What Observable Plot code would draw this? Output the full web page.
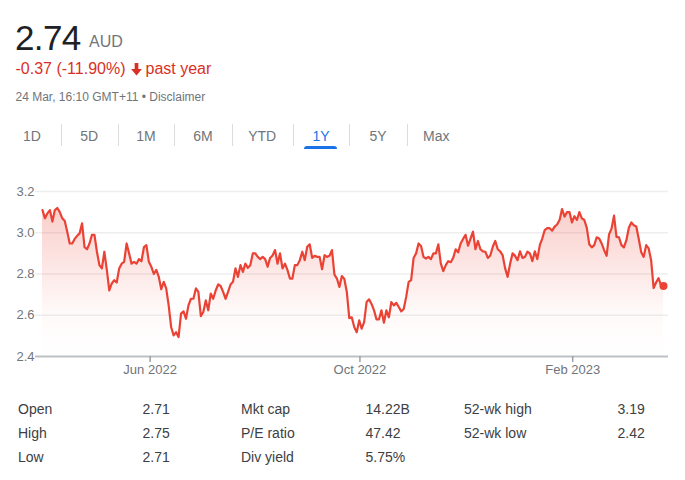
<!DOCTYPE html>
<html><head><meta charset="utf-8">
<script src="https://cdn.jsdelivr.net/npm/d3@7"></script>
<script src="https://cdn.jsdelivr.net/npm/@observablehq/plot@0.6"></script>
<style>
html,body{margin:0;padding:0;background:#fff}
body{width:685px;height:480px;overflow:hidden;position:relative;font-family:"Liberation Sans",Arial,sans-serif}
.abs{position:absolute;white-space:nowrap;line-height:1}
</style></head><body>
<script>
// ---------- data ----------
const price = "2.74";
const currency = "AUD";
const changeText = "-0.37 (-11.90%)";
const periodText = "past year";
const stampText = "24 Mar, 16:10 GMT+11 • Disclaimer";
const ranges = ["1D","5D","1M","6M","YTD","1Y","5Y","Max"];
const activeRange = "1Y";
const yTicks = [2.4, 2.6, 2.8, 3.0, 3.2];
const xTickLabels = ["Jun 2022","Oct 2022","Feb 2023"];
const xTickIndex = [43.5, 128.3, 214.3];
const closes = [
 3.11,3.07,3.094,3.11,3.054,3.11,3.12,3.10,3.07,3.057,
 3.005,2.948,2.948,2.97,2.985,2.997,3.046,2.93,2.92,2.948,2.99,
 2.99,2.908,2.843,2.827,2.908,2.82,2.72,2.754,2.77,2.759,
 2.827,2.85,2.859,2.948,2.90,2.85,2.859,2.85,2.872,2.862,
 2.93,2.94,
 2.859,2.835,2.80,2.82,2.786,2.726,2.762,2.73,2.648,2.543,
 2.502,2.518,2.494,2.608,2.619,2.583,2.648,2.68,2.68,2.73,
 2.713,2.596,2.616,2.672,2.624,2.705,2.68,2.72,2.75,2.742,
 2.713,2.68,2.713,2.749,2.762,2.827,2.786,2.843,2.81,2.85,
 2.83,2.843,2.90,
 2.90,2.883,2.872,2.883,2.872,2.835,2.878,2.89,2.916,2.85,
 2.90,2.827,2.85,2.82,2.778,2.778,2.843,2.843,2.867,2.908,
 2.867,2.932,2.944,2.878,2.888,2.883,2.883,2.823,2.891,2.883,
 2.888,2.916,2.797,2.778,2.737,2.79,2.776,2.713,2.586,2.59,
 2.543,2.518,2.575,2.535,2.567,2.664,2.677,2.655,2.624,2.58,
 2.58,2.624,2.564,2.624,2.59,2.664,2.648,2.66,2.64,2.619,
 2.63,2.689,2.762,2.77,2.878,2.90,2.948,2.936,2.883,2.875,
 2.883,2.872,2.90,2.90,2.944,2.85,2.814,2.843,2.862,2.857,
 2.878,2.92,2.905,2.948,2.97,2.99,2.937,2.972,3.005,
 2.92,2.96,2.92,2.91,2.908,2.878,2.89,2.932,2.96,2.92,
 2.91,2.89,2.827,2.786,2.85,2.90,2.888,2.867,2.91,2.878,
 2.883,2.908,2.90,2.862,2.91,2.872,2.94,2.972,3.013,3.022,
 3.022,3.01,3.03,3.04,3.062,3.115,3.078,3.10,3.10,3.05,
 3.08,3.062,3.10,3.07,
 3.062,3.024,2.944,2.929,2.94,2.978,2.972,2.948,2.916,2.888,
 2.992,3.02,3.083,2.98,2.978,2.94,2.929,2.964,3.024,3.05,
 3.036,3.03,2.97,2.905,2.883,2.94,2.924,2.867,2.732,2.759,
 2.78,2.745,2.742
];
const statLabelsA = ["Open","High","Low"];
const statValuesA = ["2.71","2.75","2.71"];
const statLabelsB = ["Mkt cap","P/E ratio","Div yield"];
const statValuesB = ["14.22B","47.42","5.75%"];
const statLabelsC = ["52-wk high","52-wk low"];
const statValuesC = ["3.19","2.42"];

// ---------- helpers ----------
const RED = "#ea4335", TXTRED = "#d93025", GREY = "#70757a", BLUE = "#1a73e8";
function put(text, left, baseline, size, color, extra = {}) {
  const el = document.createElement("div");
  el.className = "abs";
  el.textContent = text;
  el.style.left = left + "px";
  el.style.top = (baseline - 0.8465 * size) + "px";
  el.style.fontSize = size + "px";
  el.style.color = color;
  Object.assign(el.style, extra);
  document.body.appendChild(el);
  return el;
}

// ---------- header ----------
put(price, 15, 50, 35, "#202124", {letterSpacing: "-0.6px"});
put(currency, 89, 48, 16, GREY);
put(changeText, 15.5, 75, 16, TXTRED);
const arrow = document.createElementNS("http://www.w3.org/2000/svg", "svg");
arrow.setAttribute("width", "13"); arrow.setAttribute("height", "13");
arrow.setAttribute("viewBox", "0 0 12 12");
arrow.style.position = "absolute"; arrow.style.left = "129.5px"; arrow.style.top = "63px";
arrow.innerHTML = `<path d="M4.3 0h3.4v5.6h3.3L6 11.6 1 5.6h3.3z" fill="${TXTRED}"/>`;
document.body.appendChild(arrow);
put(periodText, 145.5, 75, 16, TXTRED);
put(stampText, 15.5, 101, 12, GREY);

// ---------- range tabs ----------
const bounds = [3, 60.7, 117.7, 174.3, 231.7, 292.7, 349.3, 406.7, 466];
ranges.forEach((r, i) => {
  const el = put(r, bounds[i], 140.7, 14, r === activeRange ? BLUE : GREY);
  el.style.width = (bounds[i + 1] - bounds[i]) + "px";
  el.style.textAlign = "center";
  if (i > 0) {
    const sep = document.createElement("div");
    Object.assign(sep.style, {position: "absolute", left: bounds[i] + "px", top: "124px", width: "1px", height: "22px", background: "#dadce0"});
    document.body.appendChild(sep);
  }
  if (r === activeRange) {
    const ul = document.createElement("div");
    Object.assign(ul.style, {position: "absolute", left: "304px", top: "146px", width: "33px", height: "3px", background: BLUE, borderRadius: "3px 3px 0 0"});
    document.body.appendChild(ul);
  }
});

// ---------- chart ----------
const data = closes.map((v, i) => ({i, v}));
const last = data[data.length - 1];
const n = data.length - 1;
const tickName = new Map(xTickIndex.map((t, k) => [t, xTickLabels[k]]));
const chart = Plot.plot({
  width: 685, height: 210,
  marginTop: 16, marginBottom: 29, marginLeft: 35, marginRight: 17,
  style: {fontFamily: '"Liberation Sans", Arial, sans-serif', fontSize: "13px", color: GREY, background: "transparent"},
  x: {type: "linear", domain: [-n * 0.01127, n * 1.00805], label: null},
  y: {domain: [2.4, 3.2], label: null},
  marks: [
    Plot.gridY({ticks: yTicks.slice(1), stroke: "#eeeeee", strokeOpacity: 1, strokeWidth: 1.5}),
    Plot.areaY(data, {x: "i", y1: () => yTicks[0], y2: "v", fill: "url(#priceFade)", curve: "linear"}),
    Plot.ruleY([yTicks[0]], {stroke: "#bdc1c6", strokeWidth: 2}),
    Plot.axisY({ticks: yTicks, tickSize: 0, tickPadding: 1, tickFormat: d3.format(".1f"), label: null}),
    Plot.axisX({ticks: xTickIndex, tickSize: 6, tickPadding: 2, stroke: "#9aa0a6", strokeWidth: 1.5, tickFormat: d => tickName.get(d), label: null}),
    Plot.line(data, {x: "i", y: "v", stroke: RED, strokeWidth: 2.2, strokeLinejoin: "round"}),
    Plot.dot([last], {x: "i", y: "v", r: 4, fill: RED, stroke: "none"})
  ]
});
d3.select(chart).insert("defs", ":first-child").html(
  `<linearGradient id="priceFade" x1="0" y1="0" x2="0" y2="1">
     <stop offset="0" stop-color="${RED}" stop-opacity="0.26"/>
     <stop offset="0.7" stop-color="${RED}" stop-opacity="0.03"/>
     <stop offset="1" stop-color="${RED}" stop-opacity="0"/>
   </linearGradient>`);
const holder = document.createElement("div");
Object.assign(holder.style, {position: "absolute", left: "0px", top: "175px"});
holder.appendChild(chart);
document.body.appendChild(holder);

// ---------- stats table ----------
const STAT = "#3c4043";
const rowBase = [414, 438, 462];
statLabelsA.forEach((t, k) => { put(t, 18, rowBase[k], 14, STAT); put(statValuesA[k], 142.5, rowBase[k], 14, STAT); });
statLabelsB.forEach((t, k) => { put(t, 241, rowBase[k], 14, STAT); put(statValuesB[k], 365.5, rowBase[k], 14, STAT); });
statLabelsC.forEach((t, k) => { put(t, 464, rowBase[k], 14, STAT); put(statValuesC[k], 617.5, rowBase[k], 14, STAT); });
</script>
</body></html>
